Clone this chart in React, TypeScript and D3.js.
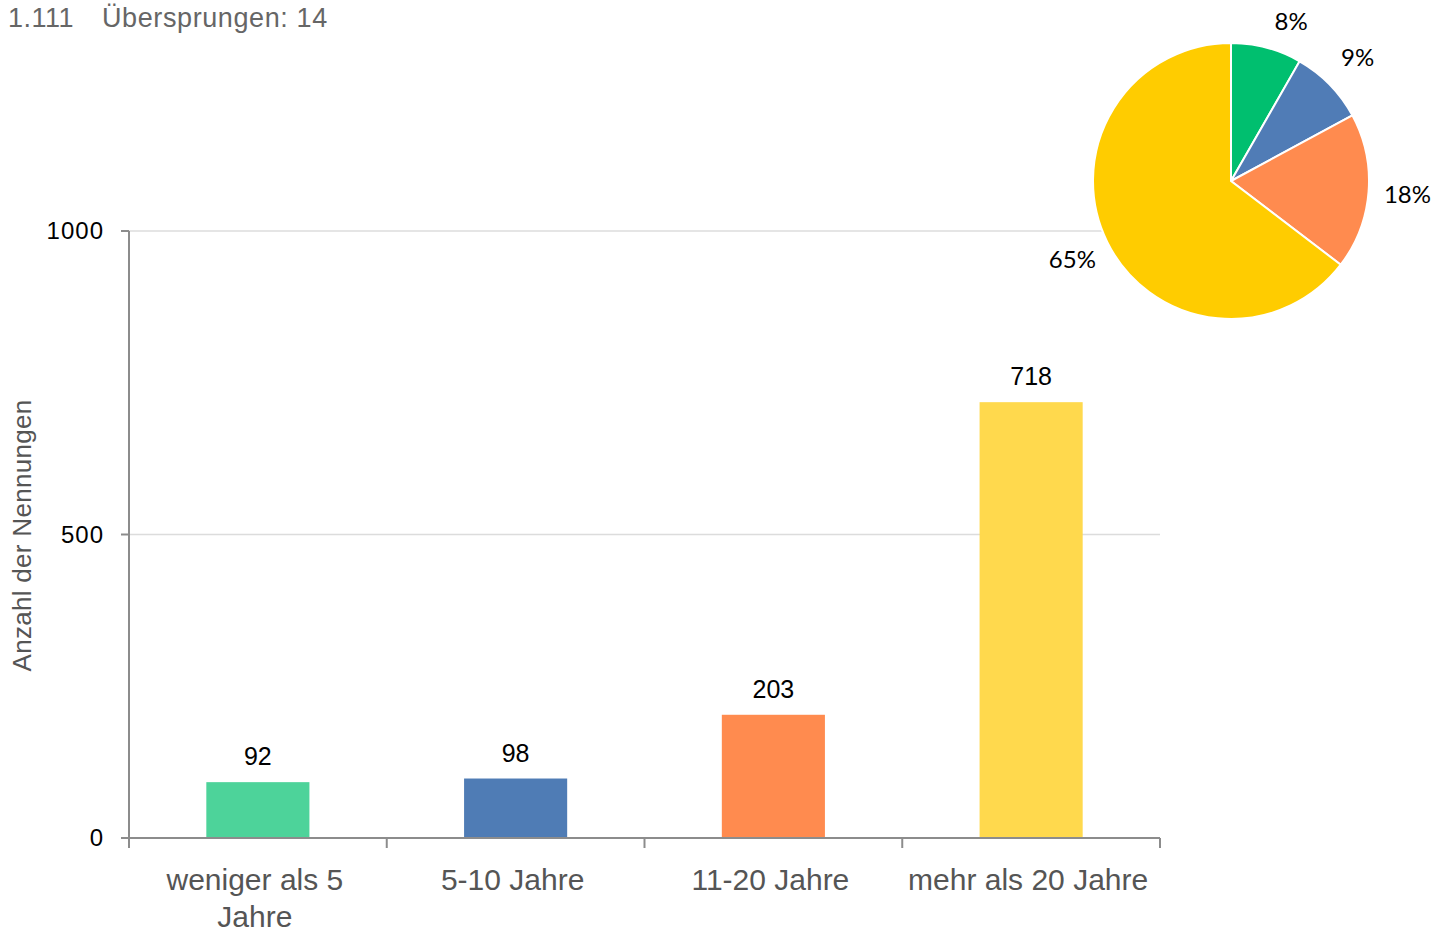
import React from "react";
import * as d3 from "d3";

// chart data
const categories = ["weniger als 5 Jahre", "5-10 Jahre", "11-20 Jahre", "mehr als 20 Jahre"];
const categoryLines = [["weniger als 5", "Jahre"], ["5-10 Jahre"], ["11-20 Jahre"], ["mehr als 20 Jahre"]];
const counts = [92, 98, 203, 718];
const pieLabels = ["8%", "9%", "18%", "65%"];
const yTicks = [0, 500, 1000];
const barColors = ["#4dd39a", "#4f7cb5", "#ff8b4f", "#ffd94d"];
const pieColors = ["#00bf6f", "#507cb6", "#ff8b4f", "#ffcc00"];
const headerTotal = "1.111";
const headerSkipped = "Übersprungen: 14";

const W = 1435;
const H = 932;
const margin = { left: 129, right: 275, top: 231, bottom: 94 };

export default function App() {
  const x = d3
    .scaleBand<string>()
    .domain(categories)
    .range([margin.left, W - margin.right])
    .paddingInner(0.6)
    .paddingOuter(0.3);
  const y = d3.scaleLinear().domain([0, 1000]).range([H - margin.bottom, margin.top]);
  const bandW = (W - margin.right - margin.left) / categories.length;
  const xEdges = d3.range(categories.length + 1).map((i) => margin.left + i * bandW);

  const pieCx = 1231;
  const pieCy = 181;
  const pieR = 138;
  const labelR = 177;
  const pie = d3.pie<number>().sort(null).value((d) => d);
  const arcs = pie(counts);
  const arc = d3.arc<d3.PieArcDatum<number>>().innerRadius(0).outerRadius(pieR);
  const labelArc = d3.arc<d3.PieArcDatum<number>>().innerRadius(labelR).outerRadius(labelR);

  // keep labels inside the page: slide along a slightly smaller circle if needed
  const labelPos = (a: d3.PieArcDatum<number>): [number, number] => {
    let [lx, ly] = labelArc.centroid(a);
    const minY = 22 - pieCy;
    if (ly < minY) {
      const r = 170;
      ly = minY;
      lx = Math.sign(lx || 1) * Math.sqrt(r * r - ly * ly);
    }
    return [lx, ly];
  };

  const font = "'Liberation Sans', Arial, sans-serif";

  return (
    <svg
      width={W}
      height={H}
      style={{ position: "absolute", left: 0, top: 0, background: "#fff" }}
      fontFamily={font}
    >
      <text x={8} y={27} fontSize={27} fill="#666" letterSpacing={0.5}>
        {headerTotal}
      </text>
      <text x={102} y={27} fontSize={27} fill="#666" letterSpacing={0.6}>
        {headerSkipped}
      </text>

      {/* grid */}
      {yTicks
        .filter((t) => t > 0)
        .map((t) => (
          <line key={t} x1={margin.left} x2={W - margin.right} y1={y(t)} y2={y(t)} stroke="#dcdcdc" strokeWidth={1.5} />
        ))}

      {/* bars */}
      {categories.map((c, i) => (
        <g key={c}>
          <rect x={x(c)} y={y(counts[i])} width={x.bandwidth()} height={y(0) - y(counts[i])} fill={barColors[i]} />
          <text x={(x(c) ?? 0) + x.bandwidth() / 2} y={y(counts[i]) - 17} textAnchor="middle" fontSize={25} fill="#000">
            {counts[i]}
          </text>
        </g>
      ))}

      {/* y axis */}
      <line x1={margin.left} x2={margin.left} y1={y(1000)} y2={y(0) + 10} stroke="#8c8c8c" strokeWidth={2} />
      {yTicks.map((t) => (
        <g key={t}>
          <line x1={margin.left - 8} x2={margin.left} y1={y(t)} y2={y(t)} stroke="#8c8c8c" strokeWidth={2} />
          <text x={104} y={y(t) + 8} textAnchor="end" fontSize={24} letterSpacing={1} fill="#000">
            {t}
          </text>
        </g>
      ))}
      <text
        transform={`translate(31, ${(y(0) + y(1000)) / 2 + 1}) rotate(-90)`}
        textAnchor="middle"
        fontSize={26}
        letterSpacing={0.3}
        fill="#555"
      >
        Anzahl der Nennungen
      </text>

      {/* x axis */}
      <line x1={margin.left} x2={W - margin.right} y1={y(0)} y2={y(0)} stroke="#8c8c8c" strokeWidth={2} />
      {xEdges.map((e, i) => (
        <line key={i} x1={e} x2={e} y1={y(0)} y2={y(0) + 10} stroke="#8c8c8c" strokeWidth={2} />
      ))}
      {categories.map((c, i) => (
        <text key={c} textAnchor="middle" fontSize={30} fill="#555">
          {categoryLines[i].map((line, j) => (
            <tspan key={j} x={(x(c) ?? 0) + x.bandwidth() / 2 - 3} y={890 + j * 37}>
              {line}
            </tspan>
          ))}
        </text>
      ))}

      {/* pie */}
      <g transform={`translate(${pieCx}, ${pieCy})`}>
        {arcs.map((a, i) => (
          <path key={i} d={arc(a) ?? ""} fill={pieColors[i]} stroke="#fff" strokeWidth={2} />
        ))}
        {arcs.map((a, i) => {
          const [lx, ly] = labelPos(a);
          return (
            <text
              key={i}
              x={lx}
              y={ly}
              dy="0.35em"
              textAnchor="middle"
              fontSize={24}
              fontFamily="Lato, 'Open Sans', sans-serif"
              fill="#000"
            >
              {pieLabels[i]}
            </text>
          );
        })}
      </g>
    </svg>
  );
}
